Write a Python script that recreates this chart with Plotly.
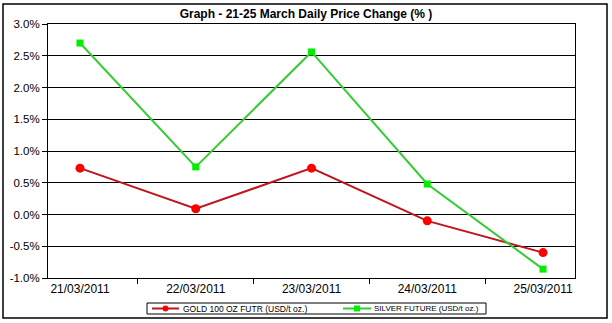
import plotly.graph_objects as go

dates = ["21/03/2011", "22/03/2011", "23/03/2011", "24/03/2011", "25/03/2011"]
gold = [0.73, 0.09, 0.73, -0.10, -0.60]
silver = [2.70, 0.75, 2.56, 0.48, -0.86]
y_ticks = [-1.0, -0.5, 0.0, 0.5, 1.0, 1.5, 2.0, 2.5, 3.0]
gold_name = "GOLD 100 OZ FUTR (USD/t oz.)"
silver_name = "SILVER FUTURE (USD/t oz.)"
gold_line, gold_fill = "#C0141E", "#FF0000"
silver_line, silver_fill = "#33CC33", "#00EE00"

L, R, T, B = 48, 575, 24, 278
W, H = 612, 323
pw, ph = R - L, B - T


def px(x):
    return (x - L) / pw


def py(y):
    return (B - y) / ph


fig = go.Figure()
fig.add_trace(go.Scatter(
    x=dates, y=gold, mode="lines+markers", name=gold_name,
    line=dict(color=gold_line, width=2),
    marker=dict(symbol="circle", size=9, color=gold_fill),
))
fig.add_trace(go.Scatter(
    x=dates, y=silver, mode="lines+markers", name=silver_name,
    line=dict(color=silver_line, width=2),
    marker=dict(symbol="square", size=7, color=silver_fill),
))

# legend drawn as a boxed row below the axis
ly = 308.5
shapes = [
    dict(type="rect", xref="paper", yref="paper",
         x0=px(3), x1=px(607), y0=py(318), y1=py(4),
         line=dict(color="black", width=1.5)),
    dict(type="rect", xref="paper", yref="paper",
         x0=px(147), x1=px(486), y0=py(314), y1=py(303),
         line=dict(color="black", width=1), fillcolor="white"),
    dict(type="line", xref="paper", yref="paper",
         x0=px(152), x1=px(179), y0=py(ly), y1=py(ly),
         line=dict(color=gold_line, width=2)),
    dict(type="circle", xref="paper", yref="paper",
         x0=px(162.5), x1=px(168.5), y0=py(ly + 3), y1=py(ly - 3),
         line=dict(color=gold_fill, width=0), fillcolor=gold_fill),
    dict(type="line", xref="paper", yref="paper",
         x0=px(343), x1=px(371), y0=py(ly), y1=py(ly),
         line=dict(color=silver_line, width=2)),
    dict(type="rect", xref="paper", yref="paper",
         x0=px(354), x1=px(360), y0=py(ly + 3), y1=py(ly - 3),
         line=dict(color=silver_fill, width=0), fillcolor=silver_fill),
]
annotations = [
    dict(text=gold_name, xref="paper", yref="paper", x=px(181), y=py(ly),
         xanchor="left", yanchor="middle", showarrow=False,
         font=dict(family="Liberation Sans, Arial", size=8.5, color="black")),
    dict(text=silver_name, xref="paper", yref="paper", x=px(372), y=py(ly),
         xanchor="left", yanchor="middle", showarrow=False,
         font=dict(family="Liberation Sans, Arial", size=8, color="black")),
]

fig.update_layout(
    width=W, height=H,
    margin=dict(l=L, r=W - R, t=T, b=H - B, autoexpand=False),
    paper_bgcolor="white", plot_bgcolor="white",
    font=dict(family="Liberation Sans, Arial", size=12, color="black"),
    title=dict(text="<b>Graph - 21-25 March Daily Price Change (% )</b>",
               x=306 / W, xanchor="center", y=1 - 14 / H, yanchor="middle",
               font=dict(family="Liberation Sans, Arial", size=12)),
    showlegend=False,
    shapes=shapes,
    annotations=annotations,
)
fig.update_xaxes(type="category", showline=True, linecolor="black", linewidth=1, mirror=True,
                 ticks="outside", tickson="boundaries", ticklen=5, tickcolor="black",
                 showgrid=False, tickfont=dict(size=12))
fig.update_yaxes(range=[-1.0, 3.0], tickvals=y_ticks,
                 ticktext=[f"{v:.1f}%" for v in y_ticks],
                 showline=True, linecolor="black", linewidth=1, mirror=True,
                 ticks="outside", ticklen=5, tickcolor="black", tickfont=dict(size=11.5),
                 showgrid=True, gridcolor="black", gridwidth=1, zeroline=False)
fig.write_html("out.html")
